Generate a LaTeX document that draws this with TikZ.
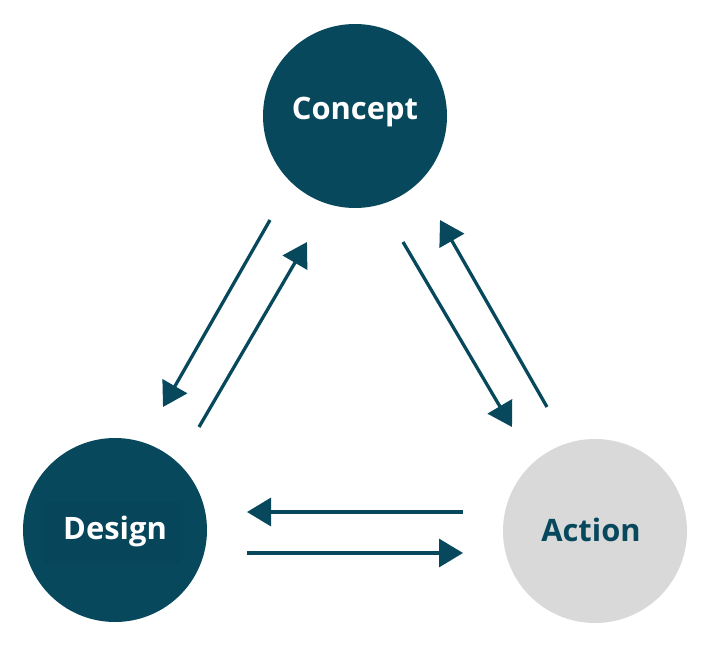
\documentclass[tikz,border=0pt]{standalone}
\usepackage{fontspec}
\setmainfont{Open Sans}
\usetikzlibrary{arrows.meta}
\definecolor{teal}{HTML}{08485D}
\definecolor{tealbox}{HTML}{06455A}
\definecolor{lgray}{HTML}{D9D9DA}
\tikzset{
  bubble/.style={circle, minimum size=184bp, inner sep=0pt, draw=none},
  lbl/.style={font=\fontsize{31}{36}\selectfont\bfseries, inner sep=0pt},
  conn/.style={draw=teal, line width=3.3bp, -{Triangle[length=24bp,width=28bp]}}
}
\begin{document}
\begin{tikzpicture}[x=1bp,y=-1bp]
\useasboundingbox (0,0) rectangle (720,650);
\node[bubble, fill=teal] (concept) at (355,116) {};
\node[bubble, fill=teal] (design) at (115,530) {};
\node[bubble, fill=lgray] (action) at (595,531) {};
\node[lbl, text=white] (tconcept) at (355,112) {Concept};
\node[fill=tealbox, minimum width=135bp, minimum height=61bp, inner sep=0pt] (dbox) at (112,532) {};
\node[lbl, text=white] (tdesign) at (115,531) {Design};
\node[lbl, text=teal] (taction) at (591,530) {Action};
\coordinate (l1s) at (270,220);
\coordinate (l1e) at (163,407);
\coordinate (l2s) at (199,427);
\coordinate (l2e) at (307,242);
\coordinate (r1s) at (403,242);
\coordinate (r1e) at (512,427);
\coordinate (r2s) at (547,407);
\coordinate (r2e) at (440,220);
\coordinate (h1s) at (463,512);
\coordinate (h1e) at (247,512);
\coordinate (h2s) at (247,553);
\coordinate (h2e) at (463,553);
\draw[conn] (l1s) -- (l1e);
\draw[conn] (l2s) -- (l2e);
\draw[conn] (r1s) -- (r1e);
\draw[conn] (r2s) -- (r2e);
\draw[conn] (h1s) -- (h1e);
\draw[conn] (h2s) -- (h2e);
\end{tikzpicture}
\end{document}
